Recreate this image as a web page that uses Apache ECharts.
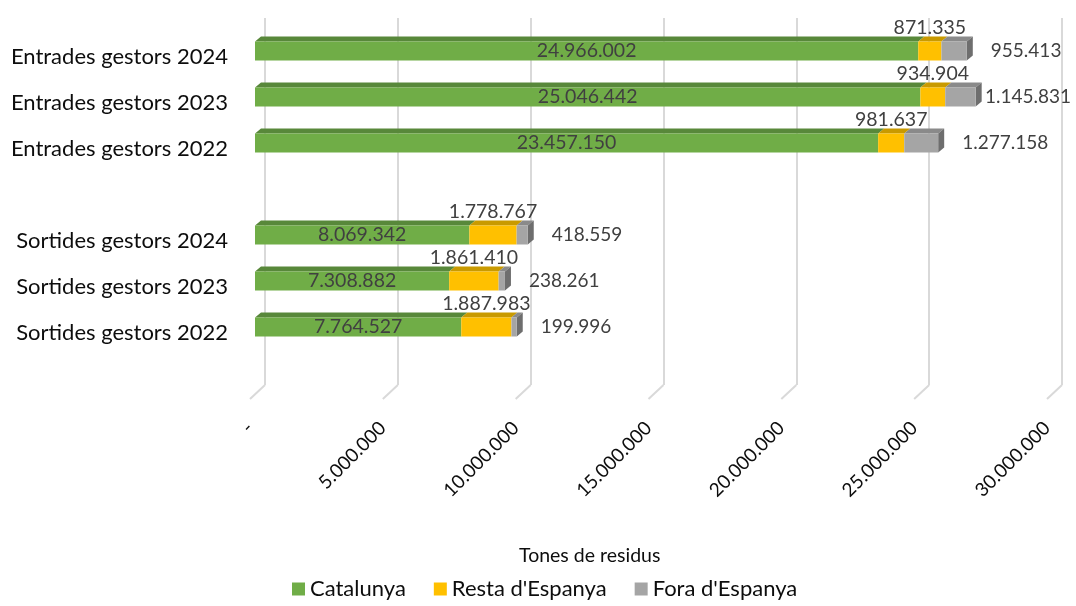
<!DOCTYPE html>
<html>
<head>
<meta charset="utf-8">
<script src="https://cdn.jsdelivr.net/npm/echarts@6/dist/echarts.min.js"></script>
<style>
  html, body { margin: 0; padding: 0; background: #fff; }
  #chart { width: 1076px; height: 606px; }
</style>
</head>
<body>
<div id="chart"></div>
<script>
// categories (blank rows keep the gap between groups and the floor depth)
const categories = ['Entrades gestors 2024', 'Entrades gestors 2023', 'Entrades gestors 2022', ' ',
  'Sortides gestors 2024', 'Sortides gestors 2023', 'Sortides gestors 2022', '  '];
const catalunya = [24966002, 25046442, 23457150, null, 8069342, 7308882, 7764527, null];
const resta = [871335, 934904, 981637, null, 1778767, 1861410, 1887983, null];
const fora = [955413, 1145831, 1277158, null, 418559, 238261, 199996, null];
const ticks = [0, 5000000, 10000000, 15000000, 20000000, 25000000, 30000000];
const seriesNames = ['Catalunya', "Resta d'Espanya", "Fora d'Espanya"];

const FONT = 'Lato';
const fmt = (v) => v.toLocaleString('de-DE');

const colors = ['#70AD47', '#FFC000', '#A5A5A5'];
const topColors = ['#58883a', '#c99a00', '#8a8a8a'];
const sideColor = '#6e6e6e';
const BAR_H = 19, DX = 6, DY = 5;

const chart = echarts.init(document.getElementById('chart'));

const xBase = { type: 'value', min: 0, max: 30000000, interval: 5000000 };

const option = {
  animation: false,
  title: {
    text: 'Tones de residus',
    left: 514, top: 541,
    textStyle: { fontFamily: FONT, fontSize: 19.5, fontWeight: 'normal', color: '#0d0d0d' }
  },
  legend: {
    data: seriesNames,
    left: 287, top: 573,
    icon: 'rect', itemWidth: 13, itemHeight: 13, itemGap: 28,
    textStyle: { fontFamily: FONT, fontSize: 22, color: '#0d0d0d' }
  },
  grid: [
    // front plane where the bars are drawn
    { left: 255, width: 797, top: 28, height: 368 },
    // back wall with the gridlines
    { left: 265, width: 797, top: 18, height: 367 },
    // floor front edge carrying the tick labels and category names
    { left: 250, width: 797, top: 34, height: 368 }
  ],
  xAxis: [
    Object.assign({ gridIndex: 0, axisLine: { show: false }, axisTick: { show: false },
      axisLabel: { show: false }, splitLine: { show: false } }, xBase),
    Object.assign({ gridIndex: 1, axisLine: { show: false }, axisTick: { show: false },
      axisLabel: { show: false }, splitLine: { show: true, lineStyle: { color: '#d9d9d9', width: 2 } } }, xBase),
    Object.assign({ gridIndex: 2, axisLine: { show: false }, axisTick: { show: false },
      splitLine: { show: false },
      axisLabel: {
        rotate: 45, margin: 23, fontFamily: FONT, fontSize: 19, color: '#0d0d0d',
        formatter: (v) => v === 0 ? '-' : fmt(v)
      } }, xBase)
  ],
  yAxis: [
    {
      gridIndex: 0, type: 'category', data: categories, inverse: true,
      axisLine: { show: false }, axisTick: { show: false }, axisLabel: { show: false }
    },
    { gridIndex: 1, type: 'value', min: 0, max: 1, show: false },
    {
      gridIndex: 2, type: 'category', data: categories, inverse: true,
      axisLine: { show: false }, axisTick: { show: false },
      axisLabel: { margin: 22, fontFamily: FONT, fontSize: 22, color: '#0d0d0d' }
    }
  ],
  series: [
    {
      name: seriesNames[0], type: 'bar', stack: 'total', barWidth: BAR_H,
      itemStyle: { color: colors[0] },
      label: { show: true, position: 'inside', fontFamily: FONT, fontSize: 19.5, color: '#404040',
        formatter: (p) => fmt(p.value) },
      data: catalunya
    },
    {
      name: seriesNames[1], type: 'bar', stack: 'total', barWidth: BAR_H,
      itemStyle: { color: colors[1] },
      label: { show: true, position: 'top', distance: 4, fontFamily: FONT, fontSize: 19.5, color: '#404040',
        formatter: (p) => fmt(p.value) },
      data: resta
    },
    {
      name: seriesNames[2], type: 'bar', stack: 'total', barWidth: BAR_H,
      itemStyle: { color: colors[2] },
      label: { show: true, position: 'right', distance: 24, fontFamily: FONT, fontSize: 19, color: '#404040',
        formatter: (p) => fmt(p.value) },
      // keep labels that would run past the right edge inside the canvas
      labelLayout: (p) => {
        const r = p.labelRect;
        const over = r.x + r.width - 1071;
        return over > 0 ? { dx: -over } : {};
      },
      data: fora
    },
    {
      // top and side faces of the 3D bars
      type: 'custom', xAxisIndex: 0, yAxisIndex: 0, silent: true, z: 1,
      data: categories.map((c, i) => [i, catalunya[i], resta[i], fora[i]]).filter(d => d[1] != null),
      renderItem: (params, api) => {
        const i = api.value(0);
        const vals = [api.value(1), api.value(2), api.value(3)];
        const yc = api.coord([0, i])[1];
        const top = yc - BAR_H / 2;
        let acc = 0;
        const children = [];
        let xa = api.coord([0, i])[0];
        vals.forEach((v, k) => {
          acc += v;
          const xb = api.coord([acc, i])[0];
          children.push({
            type: 'polygon',
            shape: { points: [[xa, top], [xb, top], [xb + DX, top - DY], [xa + DX, top - DY]] },
            style: { fill: topColors[k] }
          });
          xa = xb;
        });
        children.push({
          type: 'polygon',
          shape: { points: [[xa, top], [xa + DX, top - DY], [xa + DX, top + BAR_H - DY], [xa, top + BAR_H]] },
          style: { fill: sideColor }
        });
        return { type: 'group', children: children };
      }
    },
    {
      // floor lines running from the back wall to the front edge
      type: 'custom', xAxisIndex: 1, yAxisIndex: 1, silent: true,
      data: ticks.map(t => [t, 0]),
      renderItem: (params, api) => {
        const p = api.coord([api.value(0), 0]);
        return {
          type: 'line',
          shape: { x1: p[0], y1: p[1], x2: p[0] - 15, y2: p[1] + 14 },
          style: { stroke: '#d9d9d9', lineWidth: 2 }
        };
      }
    }
  ]
};

chart.setOption(option);
</script>
</body>
</html>
